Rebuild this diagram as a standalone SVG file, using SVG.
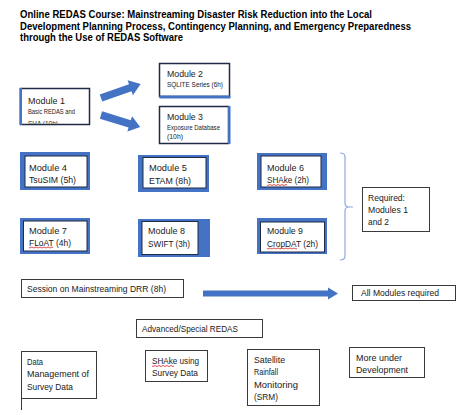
<svg xmlns="http://www.w3.org/2000/svg" width="474" height="415" viewBox="0 0 474 415">
<style>
  text { font-family: "Liberation Sans", Arial, sans-serif; fill: #1a1a1a; }
  .title { font-weight: bold; font-size: 11px; fill: #000; }
  .mt { font-size: 9.5px; }
  .sm { font-size: 6.5px; }
  .bt { font-size: 9px; }
  .blue { fill: #4472C4; }
  .inner { fill: #fff; stroke: #1F2A44; stroke-width: 1; }
  .plain { fill: #fff; stroke: #3a3a3a; stroke-width: 1; }
  .dark { fill: #fff; stroke: #1F2A44; stroke-width: 1.5; }
  .squig { fill: none; stroke: #d62020; stroke-width: 0.8; }
</style>
<defs>
  <clipPath id="c1"><rect x="21" y="89" width="68" height="34.5"/></clipPath>
</defs>
<rect width="474" height="415" fill="#fff"/>

<g id="title">
  <text class="title" x="20" y="17.5" textLength="352" lengthAdjust="spacingAndGlyphs">Online REDAS Course: Mainstreaming Disaster Risk Reduction into the Local</text>
  <text class="title" x="20" y="29.5" textLength="391" lengthAdjust="spacingAndGlyphs">Development Planning Process, Contingency Planning, and Emergency Preparedness</text>
  <text class="title" x="20" y="40.5" textLength="163" lengthAdjust="spacingAndGlyphs">through the Use of REDAS Software</text>
</g>

<g id="connectors">
  <polygon class="blue" transform="translate(101,98) rotate(-19.3)" points="0,-3.8 31,-3.8 31,-8 42,0 31,8 31,3.8 0,3.8"/>
  <polygon class="blue" transform="translate(101,115) rotate(17.1)" points="0,-3.8 30,-3.8 30,-8 41,0 30,8 30,3.8 0,3.8"/>
  <polygon class="blue" points="203,290.5 328,290.5 328,287.5 338,293.5 328,299.5 328,296.5 203,296.5"/>
  <path d="M340,153 Q345,153 345,157 L345,203 Q345,207 349,207 Q345,207 345,211 L345,256 Q345,260 340,260 M349,207 L353,207" fill="none" stroke="#8FAADC" stroke-width="1.2"/>
</g>

<g id="module1">
  <rect class="dark" x="20.5" y="88.5" width="69" height="36"/>
  <rect class="blue" x="19.5" y="88" width="2.5" height="37"/>
  <text class="mt" x="28" y="104" textLength="37" lengthAdjust="spacingAndGlyphs">Module 1</text>
  <g clip-path="url(#c1)">
    <text class="sm" x="28" y="113.5" textLength="47" lengthAdjust="spacingAndGlyphs">Basic REDAS and</text>
    <text class="sm" x="28" y="125.5" textLength="30" lengthAdjust="spacingAndGlyphs">SHA (10h)</text>
  </g>
</g>

<g id="module2">
  <rect class="dark" x="159.5" y="63.5" width="70" height="33"/>
  <rect class="blue" x="159.5" y="95.5" width="71" height="3"/>
  <text class="mt" x="167" y="76.5" textLength="36" lengthAdjust="spacingAndGlyphs">Module 2</text>
  <text class="sm" x="167" y="86.5" textLength="56" lengthAdjust="spacingAndGlyphs">SQLITE Series (6h)</text>
</g>

<g id="module3">
  <rect class="dark" x="159.5" y="106.5" width="69" height="37"/>
  <rect class="blue" x="228" y="106" width="2.5" height="38"/>
  <text class="mt" x="167" y="120" textLength="36" lengthAdjust="spacingAndGlyphs">Module 3</text>
  <text class="sm" x="167" y="130" textLength="53" lengthAdjust="spacingAndGlyphs">Exposure Database</text>
  <text class="sm" x="167" y="139" textLength="16" lengthAdjust="spacingAndGlyphs">(10h)</text>
</g>

<g id="module4">
  <rect class="blue" x="20" y="152" width="70" height="38"/>
  <rect class="inner" x="25" y="156" width="62" height="31"/>
  <text class="mt" x="29" y="170.5" textLength="38" lengthAdjust="spacingAndGlyphs">Module 4</text>
  <text class="mt" x="29" y="183" textLength="47" lengthAdjust="spacingAndGlyphs">TsuSIM (5h)</text>
</g>

<g id="module5">
  <rect class="blue" x="138" y="155" width="71" height="37"/>
  <rect class="inner" x="143" y="157.5" width="63" height="30.5"/>
  <text class="mt" x="149" y="170.5" textLength="38" lengthAdjust="spacingAndGlyphs">Module 5</text>
  <text class="mt" x="149" y="183.5" textLength="42" lengthAdjust="spacingAndGlyphs">ETAM (8h)</text>
</g>

<g id="module6">
  <rect class="blue" x="257" y="153" width="70" height="37"/>
  <rect class="inner" x="261" y="156" width="60" height="31"/>
  <text class="mt" x="267" y="170.5" textLength="37" lengthAdjust="spacingAndGlyphs">Module 6</text>
  <text class="mt" x="267" y="183" textLength="42" lengthAdjust="spacingAndGlyphs">SHAke (2h)</text>
  <path class="squig" d="M267,185 q1,1 2,0 t2,0 t2,0 t2,0 t2,0 t2,0 t2,0 t2,0 t2,0 t2,0"/>
</g>

<g id="module7">
  <rect class="blue" x="20" y="218" width="70" height="36"/>
  <rect class="inner" x="23.5" y="221" width="63.5" height="30"/>
  <text class="mt" x="29" y="233.5" textLength="38" lengthAdjust="spacingAndGlyphs">Module 7</text>
  <text class="mt" x="29" y="245.5" textLength="42" lengthAdjust="spacingAndGlyphs">FLoAT (4h)</text>
  <path class="squig" d="M29,247.5 q1,1 2,0 t2,0 t2,0 t2,0 t2,0 t2,0 t2,0 t2,0 t2,0 t2,0 t2,0 t2,0"/>
</g>

<g id="module8">
  <rect class="blue" x="138" y="219" width="72" height="38"/>
  <rect class="inner" x="142" y="221.5" width="56" height="33"/>
  <text class="mt" x="148" y="234" textLength="37" lengthAdjust="spacingAndGlyphs">Module 8</text>
  <text class="mt" x="148" y="246.5" textLength="42" lengthAdjust="spacingAndGlyphs">SWIFT (3h)</text>
</g>

<g id="module9">
  <rect class="blue" x="257" y="218" width="70" height="36"/>
  <rect class="inner" x="260.5" y="222" width="64" height="30"/>
  <text class="mt" x="267" y="234" textLength="36" lengthAdjust="spacingAndGlyphs">Module 9</text>
  <text class="mt" x="267" y="246.5" textLength="51" lengthAdjust="spacingAndGlyphs">CropDAT (2h)</text>
  <path class="squig" d="M267,248.5 q1,1 2,0 t2,0 t2,0 t2,0 t2,0 t2,0 t2,0 t2,0 t2,0 t2,0 t2,0 t2,0 t2,0 t2,0 t2,0"/>
</g>

<g id="required">
  <rect class="plain" x="362.5" y="187.5" width="67" height="44"/>
  <text class="mt" x="368" y="200.5" textLength="37" lengthAdjust="spacingAndGlyphs">Required:</text>
  <text class="mt" x="368" y="212.5" textLength="40" lengthAdjust="spacingAndGlyphs">Modules 1</text>
  <text class="mt" x="368" y="224.5" textLength="21" lengthAdjust="spacingAndGlyphs">and 2</text>
</g>

<g id="session">
  <rect class="plain" x="21.5" y="279.5" width="162" height="18"/>
  <text class="bt" x="27" y="291.5" textLength="139" lengthAdjust="spacingAndGlyphs">Session on Mainstreaming DRR (8h)</text>
</g>

<g id="allmodules">
  <rect class="plain" x="352.5" y="285.5" width="103" height="15"/>
  <text class="bt" x="361" y="296" textLength="78" lengthAdjust="spacingAndGlyphs">All Modules required</text>
</g>

<g id="advanced">
  <rect class="plain" x="136.5" y="319.5" width="126" height="18"/>
  <text class="bt" x="142" y="332" textLength="96" lengthAdjust="spacingAndGlyphs">Advanced/Special REDAS</text>
</g>

<g id="datamgmt">
  <rect class="plain" x="21.5" y="351.5" width="75" height="47"/>
  <line x1="21.5" y1="398" x2="21.5" y2="410" stroke="#3a3a3a" stroke-width="1"/>
  <text class="bt" x="27" y="364.5" textLength="16" lengthAdjust="spacingAndGlyphs">Data</text>
  <text class="bt" x="27" y="377" textLength="62" lengthAdjust="spacingAndGlyphs">Management of</text>
  <text class="bt" x="27" y="390" textLength="46" lengthAdjust="spacingAndGlyphs">Survey Data</text>
</g>

<g id="shakesurvey">
  <rect class="plain" x="145.5" y="350.5" width="62" height="31"/>
  <text class="bt" x="152" y="364" textLength="47" lengthAdjust="spacingAndGlyphs">SHAke using</text>
  <path class="squig" d="M152,366 q1,1 2,0 t2,0 t2,0 t2,0 t2,0 t2,0 t2,0 t2,0 t2,0 t2,0 t2,0"/>
  <text class="bt" x="152" y="376" textLength="46" lengthAdjust="spacingAndGlyphs">Survey Data</text>
</g>

<g id="srm">
  <rect class="plain" x="247.5" y="349.5" width="72" height="56"/>
  <text class="bt" x="254" y="362.5" textLength="31" lengthAdjust="spacingAndGlyphs">Satellite</text>
  <text class="bt" x="254" y="375" textLength="24" lengthAdjust="spacingAndGlyphs">Rainfall</text>
  <text class="bt" x="254" y="387.5" textLength="44" lengthAdjust="spacingAndGlyphs">Monitoring</text>
  <text class="bt" x="254" y="400" textLength="24" lengthAdjust="spacingAndGlyphs">(SRM)</text>
</g>

<g id="more">
  <rect class="plain" x="349.5" y="347.5" width="75" height="30"/>
  <text class="bt" x="356" y="361" textLength="46" lengthAdjust="spacingAndGlyphs">More under</text>
  <text class="bt" x="356" y="373" textLength="52" lengthAdjust="spacingAndGlyphs">Development</text>
</g>
</svg>
